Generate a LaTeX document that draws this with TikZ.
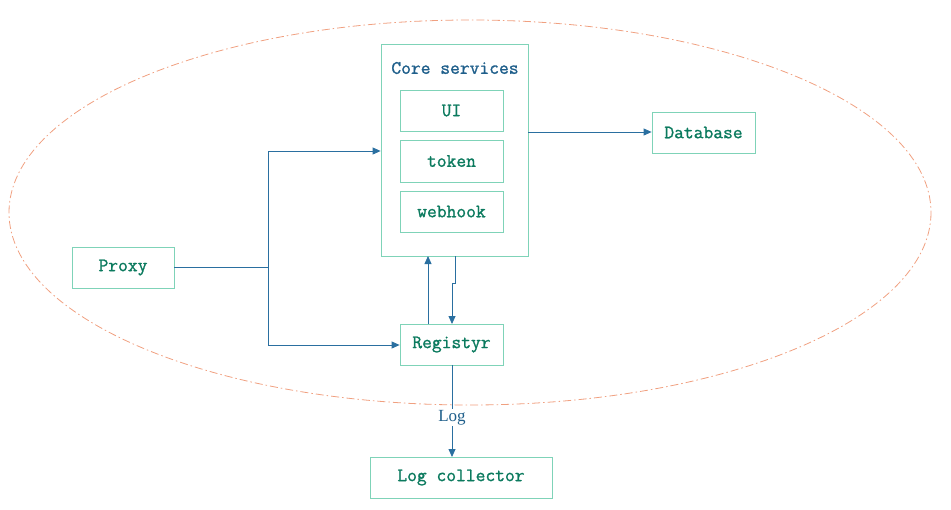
\documentclass[tikz,border=0pt]{standalone}
\usepackage{fontspec}
\usetikzlibrary{arrows.meta,calc}
\definecolor{boxc}{HTML}{7FD3B8}
\definecolor{txtg}{HTML}{0B7A5E}
\definecolor{txtb}{HTML}{1F5F8B}
\definecolor{linec}{HTML}{2A6FA0}
\definecolor{ellc}{HTML}{F0A080}
\newfontfamily\labfont{Liberation Serif}
\newfontfamily\boxfont{Latin Modern Mono}[FakeBold=1.2]
\begin{document}
\begin{tikzpicture}[x=1pt,y=-1pt,
  box/.style={draw=boxc, line width=0.8pt, inner sep=0pt, font=\boxfont\fontsize{19}{21}\selectfont, text=txtg},
  conn/.style={draw=linec, line width=0.8pt, -{Triangle[length=8pt,width=7pt]}},
  plain/.style={draw=linec, line width=0.8pt}]
\useasboundingbox (0,0) rectangle (951,509);
\draw[ellc, line width=0.8pt, dash pattern=on 8pt off 3pt on 1.5pt off 3pt] (470,212.5) ellipse [x radius=461, y radius=192.5];
\node[box, minimum width=147pt, minimum height=212pt] (core) at (454.5,150) {};
\node[font=\boxfont\fontsize{19}{21}\selectfont, text=txtb] (coret) at (455,68) {Core services};
\node[box, minimum width=103pt, minimum height=41pt] (ui) at (451.5,110.5) {UI};
\node[box, minimum width=103pt, minimum height=42pt] (token) at (451.5,161) {token};
\node[box, minimum width=103pt, minimum height=41pt] (webhook) at (451.5,211.5) {webhook};
\node[box, minimum width=103pt, minimum height=41pt] (db) at (703.5,132.5) {Database};
\node[box, minimum width=102pt, minimum height=41pt] (proxy) at (123,267.5) {Proxy};
\node[box, minimum width=103pt, minimum height=41pt] (reg) at (451.5,344.5) {Registyr};
\node[box, minimum width=182pt, minimum height=41pt] (log) at (461,477.5) {Log collector};
\coordinate (j) at (268,267.5);
\draw[conn] (core.east |- 0,132) -- (db.west |- 0,132);
\draw[plain] (proxy.east) -- (j);
\draw[conn] (j) -- (268,151) -- (core.west |- 0,151);
\draw[conn] (j) -- (268,345) -- (reg.west |- 0,345);
\draw[conn] (428,324) -- (428,256) ;
\draw[conn] (455,256) -- (455,283) -- (452,283) -- (452,324);
\draw[conn] (452,365) -- node[fill=white, inner sep=1pt, font=\labfont\fontsize{17}{19}\selectfont, text=txtb, pos=0.57] {Log} (452,457);
\end{tikzpicture}
\end{document}
